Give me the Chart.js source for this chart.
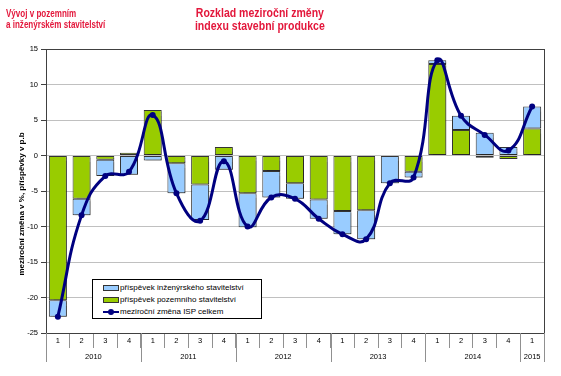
<!DOCTYPE html>
<html>
<head>
<meta charset="utf-8">
<script src="https://cdn.jsdelivr.net/npm/chart.js@4.4.1/dist/chart.umd.min.js"></script>
<style>
    body { margin: 0; background: #fff; }
    #wrap { position: relative; width: 561px; height: 376px; font-family: "Liberation Sans", Arial, sans-serif; }
    .red { position: absolute; color: #e3173b; font-weight: bold; font-family: "Liberation Sans", Arial, sans-serif; white-space: nowrap; }
    #title-left { left: 6px; top: 8px; font-size: 11.5px; line-height: 11px; transform: scaleX(0.7); transform-origin: 0 0; }
    #title-main { left: 140px; width: 240px; top: 6px; font-size: 13.5px; line-height: 13px; text-align: center; transform: scaleX(0.78); transform-origin: 119.5px 0; }
    #legend { position: absolute; left: 92px; top: 279px; width: 168px; height: 38px; border: 1px solid #000; background: #fff; font-size: 8px; }
    .row { position: absolute; left: 10px; height: 10px; line-height: 10px; white-space: nowrap; }
    .sw { display: inline-block; width: 14px; height: 4px; border: 1px solid #333; vertical-align: middle; margin-right: 1px; }
    .ln { display: inline-block; position: relative; width: 16px; height: 2px; background: #000080; vertical-align: middle; margin-right: 1px; }
    .ln i { position: absolute; left: 5px; top: -2px; width: 6px; height: 6px; border-radius: 3px; background: #000080; }
</style>
</head>
<body>
<div id="wrap">
    <canvas id="chart" width="561" height="376"></canvas>
    <div id="title-left" class="red">Vývoj v pozemním<br>a inženýrském stavitelství</div>
    <div id="title-main" class="red">Rozklad meziroční změny<br>indexu stavební produkce</div>
    <div id="legend">
        <div class="row" style="top:3px"><span class="sw" style="background:#99ccff"></span>příspěvek inženýrského stavitelství</div>
        <div class="row" style="top:15px"><span class="sw" style="background:#99cc00"></span>příspěvek pozemního stavitelství</div>
        <div class="row" style="top:27px"><span class="ln"><i></i></span>meziroční změna ISP celkem</div>
    </div>
</div>
<script>
// quarters 2010 Q1 .. 2015 Q1
const quarters = ['1','2','3','4','1','2','3','4','1','2','3','4','1','2','3','4','1','2','3','4','1'];
const years = ['2010', '2011', '2012', '2013', '2014', '2015'];
const quartersPerYear = [4, 4, 4, 4, 4, 1];

// contribution of building construction (green), p.b.
const pozemni = [-20.4, -6.1, -0.6, 0.4, 6.4, -1.1, -4.1, 1.2, -5.3, -2.2, -3.9, -6.2, -7.8, -7.7, 0.0, -2.3, 12.9, 3.6, -0.3, -0.5, 3.8];
// contribution of civil engineering (blue), p.b.
const inzenyrske = [-2.3, -2.3, -2.3, -2.7, -0.7, -4.2, -5.0, -2.0, -4.8, -3.7, -2.2, -2.7, -3.3, -4.1, -3.9, -0.8, 0.5, 2.0, 3.2, 1.2, 3.1];
// total year-on-year change of construction output, %
const celkem = [-22.7, -8.4, -2.9, -2.3, 5.7, -5.3, -9.2, -0.8, -10.0, -5.9, -6.1, -8.9, -11.1, -11.8, -3.9, -3.1, 13.4, 5.6, 2.9, 0.7, 6.9];

const yTitle = 'meziroční změna v %, příspěvky v p.b';
const tickFont = { family: '"Liberation Sans", Arial, sans-serif', size: 7.5 };

// bar shadows, frame, y title, year separators and year labels
const extras = {
    id: 'extras',
    beforeDatasetDraw(chart, args) {
        if (args.meta.type !== 'bar') return;
        const ctx = chart.ctx;
        ctx.save();
        ctx.shadowColor = 'rgba(0,0,0,0.25)';
        ctx.shadowOffsetX = 2;
        ctx.shadowOffsetY = 2;
        ctx.shadowBlur = 1;
    },
    afterDatasetDraw(chart, args) {
        if (args.meta.type !== 'bar') return;
        chart.ctx.restore();
    },
    afterDraw(chart) {
        const ctx = chart.ctx;
        const x = chart.scales.x;
        const area = chart.chartArea;
        const half = (x.getPixelForValue(1) - x.getPixelForValue(0)) / 2;

        ctx.save();
        ctx.strokeStyle = '#404040';
        ctx.lineWidth = 1;
        ctx.strokeRect(Math.round(area.left) + 0.5, Math.round(area.top) + 0.5,
            Math.round(area.right - area.left), Math.round(area.bottom - area.top));

        // y axis title, sits a bit below the middle of the axis like in the original
        ctx.save();
        ctx.translate(21.5, (area.top + area.bottom) / 2 + 13);
        ctx.rotate(-Math.PI / 2);
        ctx.font = 'bold 8px "Liberation Sans", Arial, sans-serif';
        ctx.fillStyle = '#000';
        ctx.textAlign = 'center';
        ctx.textBaseline = 'middle';
        ctx.fillText(yTitle, 0, 0);
        ctx.restore();

        ctx.strokeStyle = '#909090';
        ctx.fillStyle = '#000';
        ctx.font = '7.5px "Liberation Sans", Arial, sans-serif';
        ctx.textAlign = 'center';
        ctx.textBaseline = 'middle';
        let start = 0;
        const edges = [start];
        quartersPerYear.forEach((n, i) => {
            const left = x.getPixelForValue(start) - half;
            const right = x.getPixelForValue(start + n - 1) + half;
            ctx.fillText(years[i], (left + right) / 2, area.bottom + 24);
            start += n;
            edges.push(start);
        });
        edges.forEach(e => {
            const px = Math.round(x.getPixelForValue(e) - half) + 0.5;
            ctx.beginPath();
            ctx.moveTo(px, area.bottom);
            ctx.lineTo(px, area.bottom + 29);
            ctx.stroke();
        });
        ctx.restore();
    }
};

new Chart(document.getElementById('chart'), {
    data: {
        labels: quarters,
        datasets: [
            {
                type: 'line',
                label: 'meziroční změna ISP celkem',
                data: celkem,
                stack: 'total',
                borderColor: '#000080',
                backgroundColor: '#000080',
                borderWidth: 3,
                pointRadius: 3,
                pointBackgroundColor: '#000080',
                pointBorderWidth: 0,
                tension: 0.45,
                fill: false
            },
            {
                type: 'bar',
                label: 'příspěvek pozemního stavitelství',
                data: pozemni,
                stack: 'parts',
                backgroundColor: '#99cc00',
                borderColor: '#333',
                borderWidth: 1,
                borderSkipped: false,
                barPercentage: 0.76,
                categoryPercentage: 1
            },
            {
                type: 'bar',
                label: 'příspěvek inženýrského stavitelství',
                data: inzenyrske,
                stack: 'parts',
                backgroundColor: '#99ccff',
                borderColor: '#333',
                borderWidth: 1,
                borderSkipped: false,
                barPercentage: 0.76,
                categoryPercentage: 1
            }
        ]
    },
    options: {
        responsive: false,
        animation: false,
        layout: { padding: { top: 49, right: 17, left: 0, bottom: 0 } },
        plugins: {
            legend: { display: false },
            tooltip: { enabled: false }
        },
        scales: {
            x: {
                stacked: true,
                afterFit(scale) { scale.height = 43; },
                grid: {
                    offset: true,
                    drawOnChartArea: false,
                    tickLength: 15,
                    color: '#909090'
                },
                border: { color: '#404040' },
                ticks: { color: '#000', font: tickFont, padding: -12, maxRotation: 0, autoSkip: false }
            },
            y: {
                stacked: true,
                min: -25,
                max: 15,
                afterFit(scale) { scale.width = 46; },
                ticks: { stepSize: 5, color: '#000', font: tickFont, padding: 3 },
                grid: { color: '#c0c0c0', tickColor: '#404040', tickLength: 5 },
                border: { color: '#404040' }
            }
        }
    },
    plugins: [extras]
});
</script>
</body>
</html>
